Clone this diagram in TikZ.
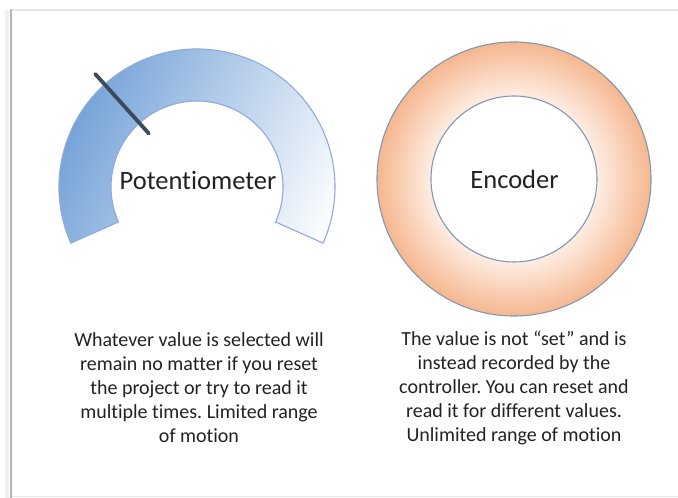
\documentclass[tikz,border=0pt]{standalone}
\usepackage{fontspec}
\setmainfont{Carlito}[Ligatures={NoCommon}]
\definecolor{potblue}{HTML}{76A3D8}
\definecolor{potline}{HTML}{8FAADC}
\definecolor{needle}{HTML}{3B4A5C}
\definecolor{encouter}{HTML}{F5B78F}
\definecolor{encinner}{HTML}{FEEDE3}
\definecolor{encline}{HTML}{8497B0}
\definecolor{txt}{HTML}{222222}
\definecolor{cardtop}{HTML}{E6E6E6}
\definecolor{cardleft}{HTML}{B4B4B4}
\pgfdeclareradialshading{encshade}{\pgfpoint{0bp}{0bp}}{color(0bp)=(encinner); color(15.2bp)=(encinner); color(25bp)=(encouter); color(50bp)=(encouter)}
\tikzset{
  title/.style={font=\fontsize{26.5}{30}\selectfont, text=txt, inner sep=0pt},
  desc/.style={font=\fontsize{20}{24}\selectfont, text=txt, align=center, inner sep=0pt},
}
\frenchspacing
\begin{document}
\begin{tikzpicture}[x=1pt,y=1pt]
\useasboundingbox (0,0) rectangle (678,498);
\fill[white] (0,0) rectangle (678,498);
% card frame
\draw[cardtop, line width=1.5pt] (11,488) -- (678,488);
\draw[cardtop, line width=1.2pt] (11,1.5) -- (678,1.5);
\draw[gray!12, line width=4pt] (7,0) -- (7,488);
\draw[cardleft, line width=2.2pt] (11,0) -- (11,488.7);
% potentiometer arc
\begin{scope}
  \clip[shift={(197,311)}] (204:138) arc[start angle=204, end angle=-24, radius=138] -- (-24:86) arc[start angle=-24, end angle=204, radius=86] -- cycle;
  \begin{scope}[transform canvas={rotate around={-25:(197,311)}}]
    \shade[left color=potblue, right color=white] (57,151) rectangle (337,471);
  \end{scope}
\end{scope}
\begin{scope}[shift={(197,311)}]
  \draw[potline, line width=1.1pt, line join=miter] (204:138) arc[start angle=204, end angle=-24, radius=138] -- (-24:86) arc[start angle=-24, end angle=204, radius=86] -- cycle;
  \coordinate (n1) at (132:152);
  \coordinate (n2) at (132:72);
  \draw[needle, line width=3.8pt, line cap=round] (n1) -- (n2);
\end{scope}
% encoder ring
\begin{scope}[shift={(514,319)}]
  \shade[shading=encshade, draw=encline, line width=1.1pt] (0,0) circle[radius=137];
  \fill[white, draw=encline, line width=1.1pt] (0,0) circle[radius=83];
\end{scope}
\node[title] (pot) at (198,318) {Potentiometer};
\node[title] (enc) at (514.5,319) {Encoder};
\node[desc] (potdesc) at (199,110) {Whatever value is selected will\\remain no matter if you reset\\the project or try to read it\\multiple times. Limited range\\of motion};
\node[desc] (encdesc) at (514,110) {The value is not “set” and is\\instead recorded by the\\controller. You can reset and\\read it for different values.\\Unlimited range of motion};
\end{tikzpicture}
\end{document}
